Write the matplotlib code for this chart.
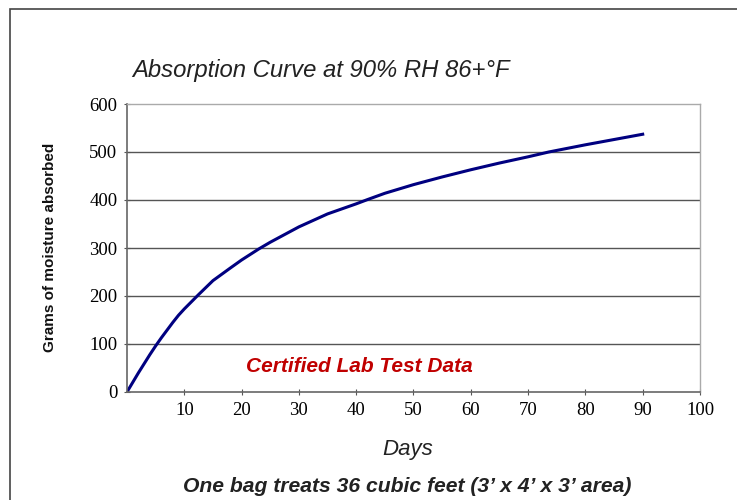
import numpy as np
import matplotlib
matplotlib.use("Agg")
import matplotlib.pyplot as plt
from matplotlib.patches import Rectangle

# values
days = [0, 1, 2, 3, 4, 5, 6, 7, 8, 9, 10, 12.5, 15, 18, 20, 23, 25, 30, 35,
        40, 42, 45, 50, 55, 60, 65, 70, 73.6, 80, 85, 90]
grams = [0, 20, 40, 59, 78, 96, 113, 129, 145, 160, 173, 203, 232, 258, 275,
         298, 312, 344, 371, 392, 401, 414, 432, 448, 463, 477, 490, 500, 515,
         526, 537]

x_ticks = [10, 20, 30, 40, 50, 60, 70, 80, 90, 100]
y_ticks = [0, 100, 200, 300, 400, 500, 600]

serif = "Liberation Serif"
sans = "Liberation Sans"

fig = plt.figure(figsize=(7.37, 5.0), dpi=100)
ax = fig.add_axes([0.1723, 0.216, 0.7775, 0.576])

# outer frame (left and top edges visible)
fig.patches.append(Rectangle((10 / 737, -0.1), 1.2, 1.1 - 9 / 500,
                             transform=fig.transFigure, fill=False,
                             edgecolor="#444444", linewidth=1.2))

ax.plot(days, grams, color="#000080", linewidth=2.2, solid_joinstyle="round")

ax.set_xlim(0, 100)
ax.set_ylim(0, 600)
ax.set_xticks(x_ticks)
ax.set_yticks(y_ticks)
ax.set_xticklabels([str(t) for t in x_ticks], family=serif, fontsize=13.5)
ax.set_yticklabels([str(t) for t in y_ticks], family=serif, fontsize=13.5)
ax.tick_params(axis="both", direction="inout", length=4, width=0.8,
               color="#555555")
ax.tick_params(axis="x", pad=5)
ax.tick_params(axis="y", pad=5)

for y in y_ticks[1:-1]:
    ax.axhline(y, color="#555555", linewidth=1.0, zorder=0)

for side in ["left", "bottom"]:
    ax.spines[side].set_color("#666666")
    ax.spines[side].set_linewidth(1.2)
for side in ["top", "right"]:
    ax.spines[side].set_color("#aaaaaa")
    ax.spines[side].set_linewidth(1.0)

fig.text(132 / 737, 1 - 70 / 500, "Absorption Curve at 90% RH 86+°F",
         family=sans, style="italic", fontsize=17.2, color="#222222",
         ha="left", va="center")

fig.text(50 / 737, 1 - 247 / 500, "Grams of moisture absorbed",
         family=sans, weight="bold", fontsize=11, rotation=90,
         ha="center", va="center", color="#111111")

ax.text(0.405, 0.09, "Certified Lab Test Data", transform=ax.transAxes,
        family=sans, weight="bold", style="italic", fontsize=15,
        color="#c00000", ha="center", va="center")

fig.text(408 / 737, 1 - 449 / 500, "Days", family=sans, style="italic",
         fontsize=16, ha="center", va="center", color="#222222")

fig.text(407 / 737, 1 - 486 / 500,
         "One bag treats 36 cubic feet (3\u2019 x 4\u2019 x 3\u2019 area)",
         family=sans, weight="bold", style="italic", fontsize=15.2,
         ha="center", va="center", color="#222222")

fig.savefig("out.png", dpi=100)
